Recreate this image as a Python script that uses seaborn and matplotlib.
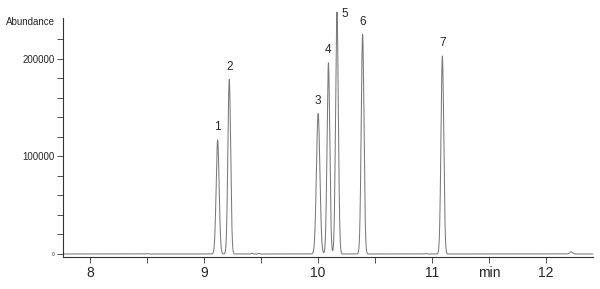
import numpy as np
import pandas as pd
import matplotlib
matplotlib.use("Agg")
import matplotlib.pyplot as plt
import seaborn as sns

# Peak table
peak_labels = ["1", "2", "3", "4", "5", "6", "7"]
peak_times = [9.118, 9.220, 10.000, 10.090, 10.165, 10.390, 11.090]   # min
peak_heights = [117000, 179000, 144000, 196000, 248000, 225000, 203000]  # abundance
peak_sigma = [0.013, 0.012, 0.015, 0.012, 0.012, 0.012, 0.012]
# small baseline features
bump_times = [9.42, 9.48, 12.22, 8.5, 10.95]
bump_heights = [700, 600, 2200, 400, 500]
bump_sigma = [0.006, 0.006, 0.012, 0.006, 0.006]

x_major = [8, 9, 10, 11, 12]
x_minor = [8.5, 9.5, 10.5, 11.5]
y_major = [0, 100000, 200000]
y_major_labels = ["0", "100000", "200000"]
y_minor = [20000, 40000, 60000, 80000, 120000, 140000, 160000, 180000, 220000]

t = np.linspace(7.76, 12.41, 4000)
signal = np.zeros_like(t)
for tc, h, s in zip(peak_times + bump_times, peak_heights + bump_heights, peak_sigma + bump_sigma):
    signal += h * np.exp(-0.5 * ((t - tc) / s) ** 2)
df = pd.DataFrame({"time": t, "abundance": signal})

sns.set_style("white")
plt.rcParams["font.family"] = ["Liberation Sans", "DejaVu Sans"]

fig = plt.figure(figsize=(6, 2.89), dpi=100)
ax = fig.add_axes([0.105, 0.109, 0.883, 0.829])
sns.lineplot(data=df, x="time", y="abundance", ax=ax, color="#7a7a7a", linewidth=0.75)
for line in ax.lines:
    line.set_clip_on(False)

ax.set_xlim(7.761, 12.41)
ax.set_ylim(-3600, 242000)

ax.set_xticks(x_major)
ax.set_xticklabels([str(v) for v in x_major], fontsize=10)
ax.set_xticks(x_minor, minor=True)
ax.set_xticklabels(["", "", "", "min"], minor=True, fontsize=10)
ax.set_yticks(y_major)
ax.set_yticklabels(y_major_labels, fontsize=7)
ax.get_yticklabels()[0].set_fontsize(3.5)
ax.set_yticks(y_minor, minor=True)

ax.tick_params(axis="x", which="both", direction="out", length=4, width=0.6,
               color="#333333", bottom=True, pad=2)
ax.tick_params(axis="y", which="both", direction="out", length=4, width=0.6,
               color="#333333", left=True, pad=2)
ax.set_xlabel("")
ax.set_ylabel("")

for side in ["top", "right"]:
    ax.spines[side].set_visible(False)
for side in ["left", "bottom"]:
    ax.spines[side].set_color("#333333")
    ax.spines[side].set_linewidth(0.8)

ax.text(-0.015, 0.985, "Abundance", transform=ax.transAxes, ha="right", va="center", fontsize=7)

label_dx = [0, 0, 0, 0, 0.07, 0, 0]
for lab, tc, h, dx in zip(peak_labels, peak_times, peak_heights, label_dx):
    y = h + 7000 if dx == 0 else h - 8000
    ax.text(tc + dx, y, lab, ha="center", va="bottom", fontsize=8.5, clip_on=False)

fig.savefig("out.png", dpi=100)
